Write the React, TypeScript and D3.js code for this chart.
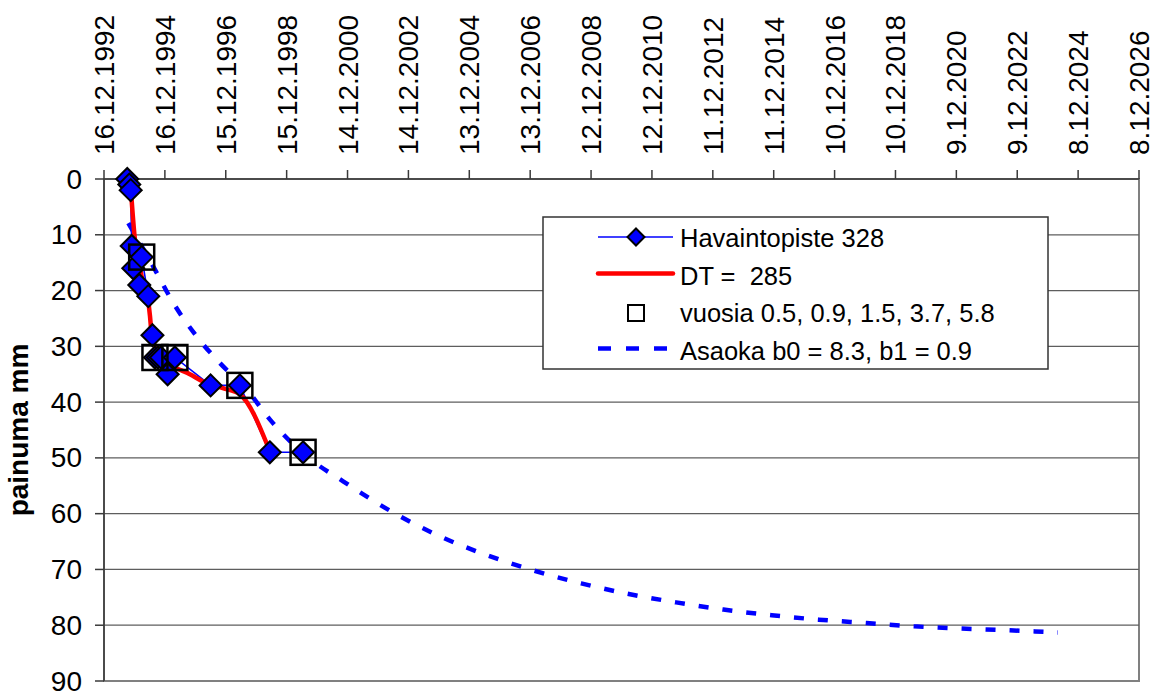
import React from "react";
import * as d3 from "d3";

// ---- data ----
const xTickLabels = [
  "16.12.1992", "16.12.1994", "15.12.1996", "15.12.1998", "14.12.2000",
  "14.12.2002", "13.12.2004", "13.12.2006", "12.12.2008", "12.12.2010",
  "11.12.2012", "11.12.2014", "10.12.2016", "10.12.2018", "9.12.2020",
  "9.12.2022", "8.12.2024", "8.12.2026",
];
const yTicks = [0, 10, 20, 30, 40, 50, 60, 70, 80, 90];

// Havaintopiste 328 (observations)
const obsDates = [
  "1993-09-21", "1993-10-15", "1993-11-01", "1993-11-13", "1993-12-02",
  "1994-02-12", "1994-03-13", "1994-05-31", "1994-07-20", "1994-08-19",
  "1994-09-24", "1994-10-30", "1995-01-18", "1995-04-15", "1996-06-16",
  "1997-06-02", "1998-05-27", "1999-06-30",
];
const obsValues = [0, 1, 2, 12, 16, 19, 14, 21, 28, 32, 32, 32, 35, 32, 37, 37, 49, 49];

// vuosia 0.5, 0.9, 1.5, 3.7, 5.8 (square markers)
const yearDates = ["1994-03-13", "1994-08-19", "1995-04-15", "1997-06-02", "1999-06-30"];
const yearValues = [14, 32, 32, 37, 49];

// DT = 285 (red curve)
const dtDates = [
  "1993-11-04", "1993-12-22", "1994-02-02", "1994-03-28", "1994-05-21",
  "1994-06-20", "1994-07-08", "1994-08-19", "1994-10-18", "1995-03-22",
  "1995-10-12", "1996-03-16", "1996-11-10", "1997-06-02", "1998-05-27",
];
const dtValues = [2, 10.9, 14.5, 18.5, 21, 24.5, 27.5, 30, 32, 33.6, 35, 36.3, 37.5, 38.6, 48.8];

// Asaoka b0 = 8.3, b1 = 0.9 (dashed prediction)
const asaokaDates = [
  "1993-10-03", "1994-07-30", "1995-03-26", "1995-12-31", "1996-10-06",
  "1997-08-21", "1998-05-27", "1999-08-10", "2000-10-22", "2002-05-12",
  "2003-12-04", "2005-07-05", "2007-01-27", "2008-08-16", "2010-03-09",
  "2011-09-28", "2013-04-17", "2014-11-17", "2016-06-01", "2017-12-28",
  "2019-07-19", "2021-02-09", "2022-08-26", "2024-04-10",
];
const asaokaValues = [
  7.9, 15.7, 22.2, 28.2, 33, 37.7, 43.1, 49.7, 54.2, 59.5, 63.9, 67.4, 70.2,
  72.5, 74.4, 75.9, 77.2, 78.2, 79.0, 79.6, 80.2, 80.6, 80.9, 81.3,
];

const legendLabels = [
  "Havaintopiste 328",
  "DT =\u00a0 285",
  "vuosia 0.5, 0.9, 1.5, 3.7, 5.8",
  "Asaoka b0 = 8.3, b1 = 0.9",
];

// ---- layout ----
const W = 1158;
const H = 693;
const plot = { left: 104, right: 1139, top: 179, bottom: 681 };
const FONT = "'Liberation Sans', Arial, Helvetica, sans-serif";
const BLUE = "#0000ff";

const parseTick = d3.utcParse("%d.%m.%Y");
const parseDate = d3.utcParse("%Y-%m-%d");

export default function App() {
  const tickDates = xTickLabels.map((s) => parseTick(s) as Date);
  const x = d3
    .scaleUtc()
    .domain([tickDates[0], tickDates[tickDates.length - 1]])
    .range([plot.left, plot.right]);
  const y = d3.scaleLinear().domain([0, 90]).range([plot.top, plot.bottom]);

  const obs = obsDates.map((d, i) => ({ x: x(parseDate(d) as Date), y: y(obsValues[i]) }));
  const yrs = yearDates.map((d, i) => ({ x: x(parseDate(d) as Date), y: y(yearValues[i]) }));
  const dt = dtDates.map((d, i) => ({ x: x(parseDate(d) as Date), y: y(dtValues[i]) }));
  const asa = asaokaDates.map((d, i) => ({ x: x(parseDate(d) as Date), y: y(asaokaValues[i]) }));

  const straight = d3
    .line<{ x: number; y: number }>()
    .x((p) => p.x)
    .y((p) => p.y);
  const smooth = d3
    .line<{ x: number; y: number }>()
    .x((p) => p.x)
    .y((p) => p.y)
    .curve(d3.curveMonotoneX);

  const diamond = (cx: number, cy: number, r: number) =>
    `M${cx},${cy - r}L${cx + r},${cy}L${cx},${cy + r}L${cx - r},${cy}Z`;

  const legend = { x0: 543, y0: 217, x1: 1048, y1: 369 };
  const legendBase = [247, 284.5, 322, 359.5];
  const lineX0 = 598;
  const lineX1 = 673;
  const markX = 636;
  const textX = 680;

  return (
    <svg
      width={W}
      height={H}
      style={{ position: "absolute", left: 0, top: 0, background: "#fff" }}
      fontFamily={FONT}
    >
      <rect x={0} y={0} width={W} height={H} fill="#fff" />
      {/* plot area */}
      <rect
        x={plot.left}
        y={plot.top}
        width={plot.right - plot.left}
        height={plot.bottom - plot.top}
        fill="#fff"
        stroke="#808080"
        strokeWidth={2}
      />
      {/* gridlines */}
      {yTicks
        .filter((t) => t > 0 && t < 90)
        .map((t) => (
          <line
            key={"g" + t}
            x1={plot.left}
            x2={plot.right}
            y1={y(t)}
            y2={y(t)}
            stroke="#5e5e5e"
            strokeWidth={1.3}
          />
        ))}
      {/* axes */}
      <line x1={plot.left} x2={plot.right} y1={plot.top} y2={plot.top} stroke="#3a3a3a" strokeWidth={1.5} />
      <line x1={plot.left} x2={plot.left} y1={plot.top} y2={plot.bottom} stroke="#3a3a3a" strokeWidth={1.5} />

      {/* y ticks */}
      {yTicks.map((t) => (
        <g key={"y" + t}>
          <line x1={plot.left - 9} x2={plot.left} y1={y(t)} y2={y(t)} stroke="#3a3a3a" strokeWidth={1.5} />
          <text x={82} y={y(t) + 9.5} textAnchor="end" fontSize={28} fill="#000">
            {t}
          </text>
        </g>
      ))}
      {/* x ticks (top) */}
      {tickDates.map((d, i) => {
        const tx = x(d);
        return (
          <g key={"x" + i}>
            <line x1={tx} x2={tx} y1={plot.top - 9} y2={plot.top} stroke="#3a3a3a" strokeWidth={1.5} />
            <text
              transform={`translate(${tx + 10},155) rotate(-90)`}
              textAnchor="start"
              fontSize={28}
              fill="#000"
            >
              {xTickLabels[i]}
            </text>
          </g>
        );
      })}

      {/* y title */}
      <text
        transform={`translate(27.5,430) rotate(-90)`}
        textAnchor="middle"
        fontSize={28}
        fontWeight="bold"
        fill="#000"
      >
        painuma mm
      </text>

      {/* Asaoka dashed curve */}
      <path
        d={smooth(asa) || ""}
        fill="none"
        stroke={BLUE}
        strokeWidth={4.5}
        strokeDasharray="10 14"
      />
      {/* observation connecting line */}
      <path d={straight(obs) || ""} fill="none" stroke={BLUE} strokeWidth={1.6} />
      {/* DT red curve */}
      <path
        d={smooth(dt) || ""}
        fill="none"
        stroke="#ff0000"
        strokeWidth={4.5}
        strokeLinejoin="round"
        strokeLinecap="round"
      />
      {/* observation diamonds */}
      {obs.map((p, i) => (
        <path key={"d" + i} d={diamond(p.x, p.y, 11)} fill={BLUE} stroke="#000" strokeWidth={2} />
      ))}
      {/* year squares */}
      {yrs.map((p, i) => (
        <rect
          key={"s" + i}
          x={p.x - 12.5}
          y={p.y - 12.5}
          width={25}
          height={25}
          fill="none"
          stroke="#000"
          strokeWidth={2.5}
        />
      ))}

      {/* legend */}
      <rect
        x={legend.x0}
        y={legend.y0}
        width={legend.x1 - legend.x0}
        height={legend.y1 - legend.y0}
        fill="#fff"
        stroke="#333"
        strokeWidth={1.5}
      />
      <line x1={lineX0} x2={lineX1} y1={legendBase[0] - 10} y2={legendBase[0] - 10} stroke={BLUE} strokeWidth={1.6} />
      <path d={diamond(markX, legendBase[0] - 10, 8.5)} fill={BLUE} stroke="#000" strokeWidth={2} />
      <line
        x1={lineX0}
        x2={lineX1}
        y1={legendBase[1] - 11}
        y2={legendBase[1] - 11}
        stroke="#ff0000"
        strokeWidth={4.5}
        strokeLinecap="round"
      />
      <rect x={markX - 8} y={legendBase[2] - 17} width={16} height={16} fill="none" stroke="#000" strokeWidth={2} />
      <line
        x1={lineX0}
        x2={lineX1}
        y1={legendBase[3] - 11}
        y2={legendBase[3] - 11}
        stroke={BLUE}
        strokeWidth={4.5}
        strokeDasharray="13 15"
      />
      {legendLabels.map((s, i) => (
        <text key={"l" + i} x={textX} y={legendBase[i]} fontSize={25.5} fill="#000">
          {s}
        </text>
      ))}
    </svg>
  );
}
